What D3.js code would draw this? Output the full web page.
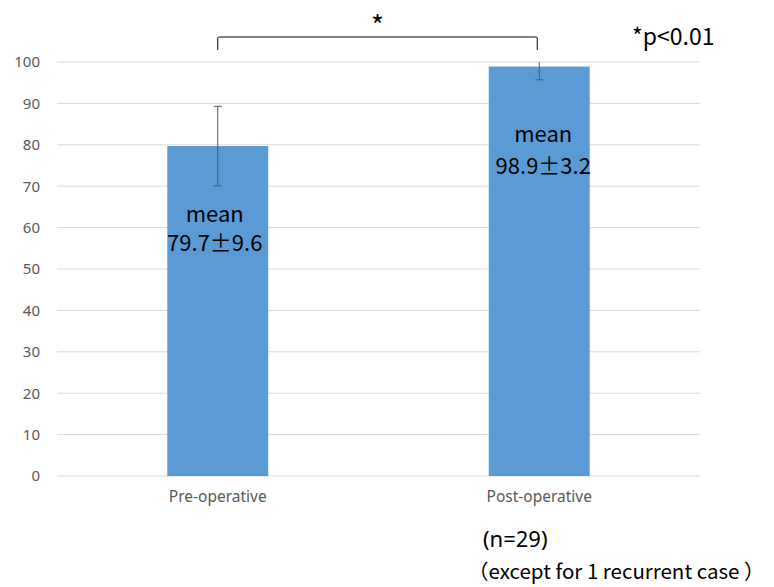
<!DOCTYPE html>
<html><head><meta charset="utf-8">
<script src="https://cdn.jsdelivr.net/npm/d3@7"></script>
<style>body{margin:0;background:#fff}</style>
</head><body>
<svg id="c" width="774" height="587"></svg>
<script>
const categories = ["Pre-operative", "Post-operative"];
const means = [79.7, 98.9];
const sds = [9.6, 3.2];
const meanLabels = ["79.7\u00b19.6", "98.9\u00b13.2"];
const yTicks = [0,10,20,30,40,50,60,70,80,90,100];

(function(){
const svg = d3.select("#c");
const pL = 57, pR = 700, pT = 62, pB = 476;
const x = d3.scaleBand().domain(categories).range([pL, pR]).paddingInner(0.686).paddingOuter(0.343);
const y = d3.scaleLinear().domain([0,100]).range([pB, pT]);
const af = "Noto Sans, sans-serif";

// grid
svg.append("g").selectAll("line").data(yTicks).join("line")
  .attr("x1", pL).attr("x2", pR)
  .attr("y1", d=>y(d)).attr("y2", d=>y(d))
  .attr("stroke", "#d9d9d9").attr("stroke-width", 1);

const yAxis = svg.append("g").attr("transform", `translate(${pL},0)`)
  .call(d3.axisLeft(y).tickValues(yTicks).tickSize(0).tickPadding(17));
yAxis.select(".domain").remove();
yAxis.selectAll("text").attr("font-family",af).attr("font-size",15).attr("fill","#595959");

const xAxis = svg.append("g").attr("transform", `translate(0,${pB})`)
  .call(d3.axisBottom(x).tickSize(0).tickPadding(15));
xAxis.select(".domain").remove();
xAxis.selectAll("text").attr("font-family",af).attr("font-size",15.5).attr("fill","#595959");

// bars
svg.append("g").selectAll("rect").data(categories).join("rect")
  .attr("x", d=>x(d)).attr("width", x.bandwidth())
  .attr("y", (d,i)=>y(means[i])).attr("height", (d,i)=>pB - y(means[i]))
  .attr("fill", "#5b9bd5");

// error bars (clipped to axis max)
const eb = svg.append("g").attr("stroke","#595959").attr("stroke-width",1);
categories.forEach((c,i)=>{
  const cx = x(c) + x.bandwidth()/2;
  const hi = Math.min(100, means[i]+sds[i]), lo = means[i]-sds[i];
  eb.append("line").attr("x1",cx).attr("x2",cx).attr("y1",y(hi)).attr("y2",y(lo));
  if (means[i]+sds[i] <= 100) eb.append("line").attr("x1",cx-4).attr("x2",cx+4).attr("y1",y(hi)).attr("y2",y(hi));
  eb.append("line").attr("x1",cx-4).attr("x2",cx+4).attr("y1",y(lo)).attr("y2",y(lo));
});

// mean labels
const tf = "Noto Sans CJK JP, Noto Sans, sans-serif";
const lblY = [[214, 243],[134, 166]];
categories.forEach((c,i)=>{
  const cx = x(c) + x.bandwidth()/2 + (i===1?4:-3);
  svg.append("text").attr("x",cx).attr("y",lblY[i][0]+8).attr("text-anchor","middle")
    .attr("font-family",tf).attr("font-size",22).attr("fill","#000").text("mean");
  svg.append("text").attr("x",cx).attr("y",lblY[i][1]+8).attr("text-anchor","middle")
    .attr("font-family",tf).attr("font-size",22).attr("fill","#000").text(meanLabels[i]);
});

// significance bracket
const x1 = x(categories[0]) + x.bandwidth()/2, x2 = x(categories[1]) + x.bandwidth()/2 - 2;
svg.append("path").attr("d",`M${x1},50 L${x1},38 Q${x1},37 ${x1+2},37 L${x2-2},37 Q${x2},37 ${x2},38 L${x2},50`)
  .attr("fill","none").attr("stroke","#000").attr("stroke-width",1);
svg.append("text").attr("x",(x1+x2)/2).attr("y",36).attr("text-anchor","middle")
  .attr("font-family",tf).attr("font-size",28).text("*");

svg.append("text").attr("x",632).attr("y",45).attr("font-family",tf).attr("font-size",23).text("*p<0.01");
svg.append("text").attr("x",483).attr("y",547).attr("font-family",af).attr("font-size",22).text("(n=29)");
svg.append("text").attr("x",468).attr("y",579).attr("font-family",tf).attr("font-size",20.5).text("\uff08except for 1 recurrent case \uff09");
})();
</script>
</body></html>
